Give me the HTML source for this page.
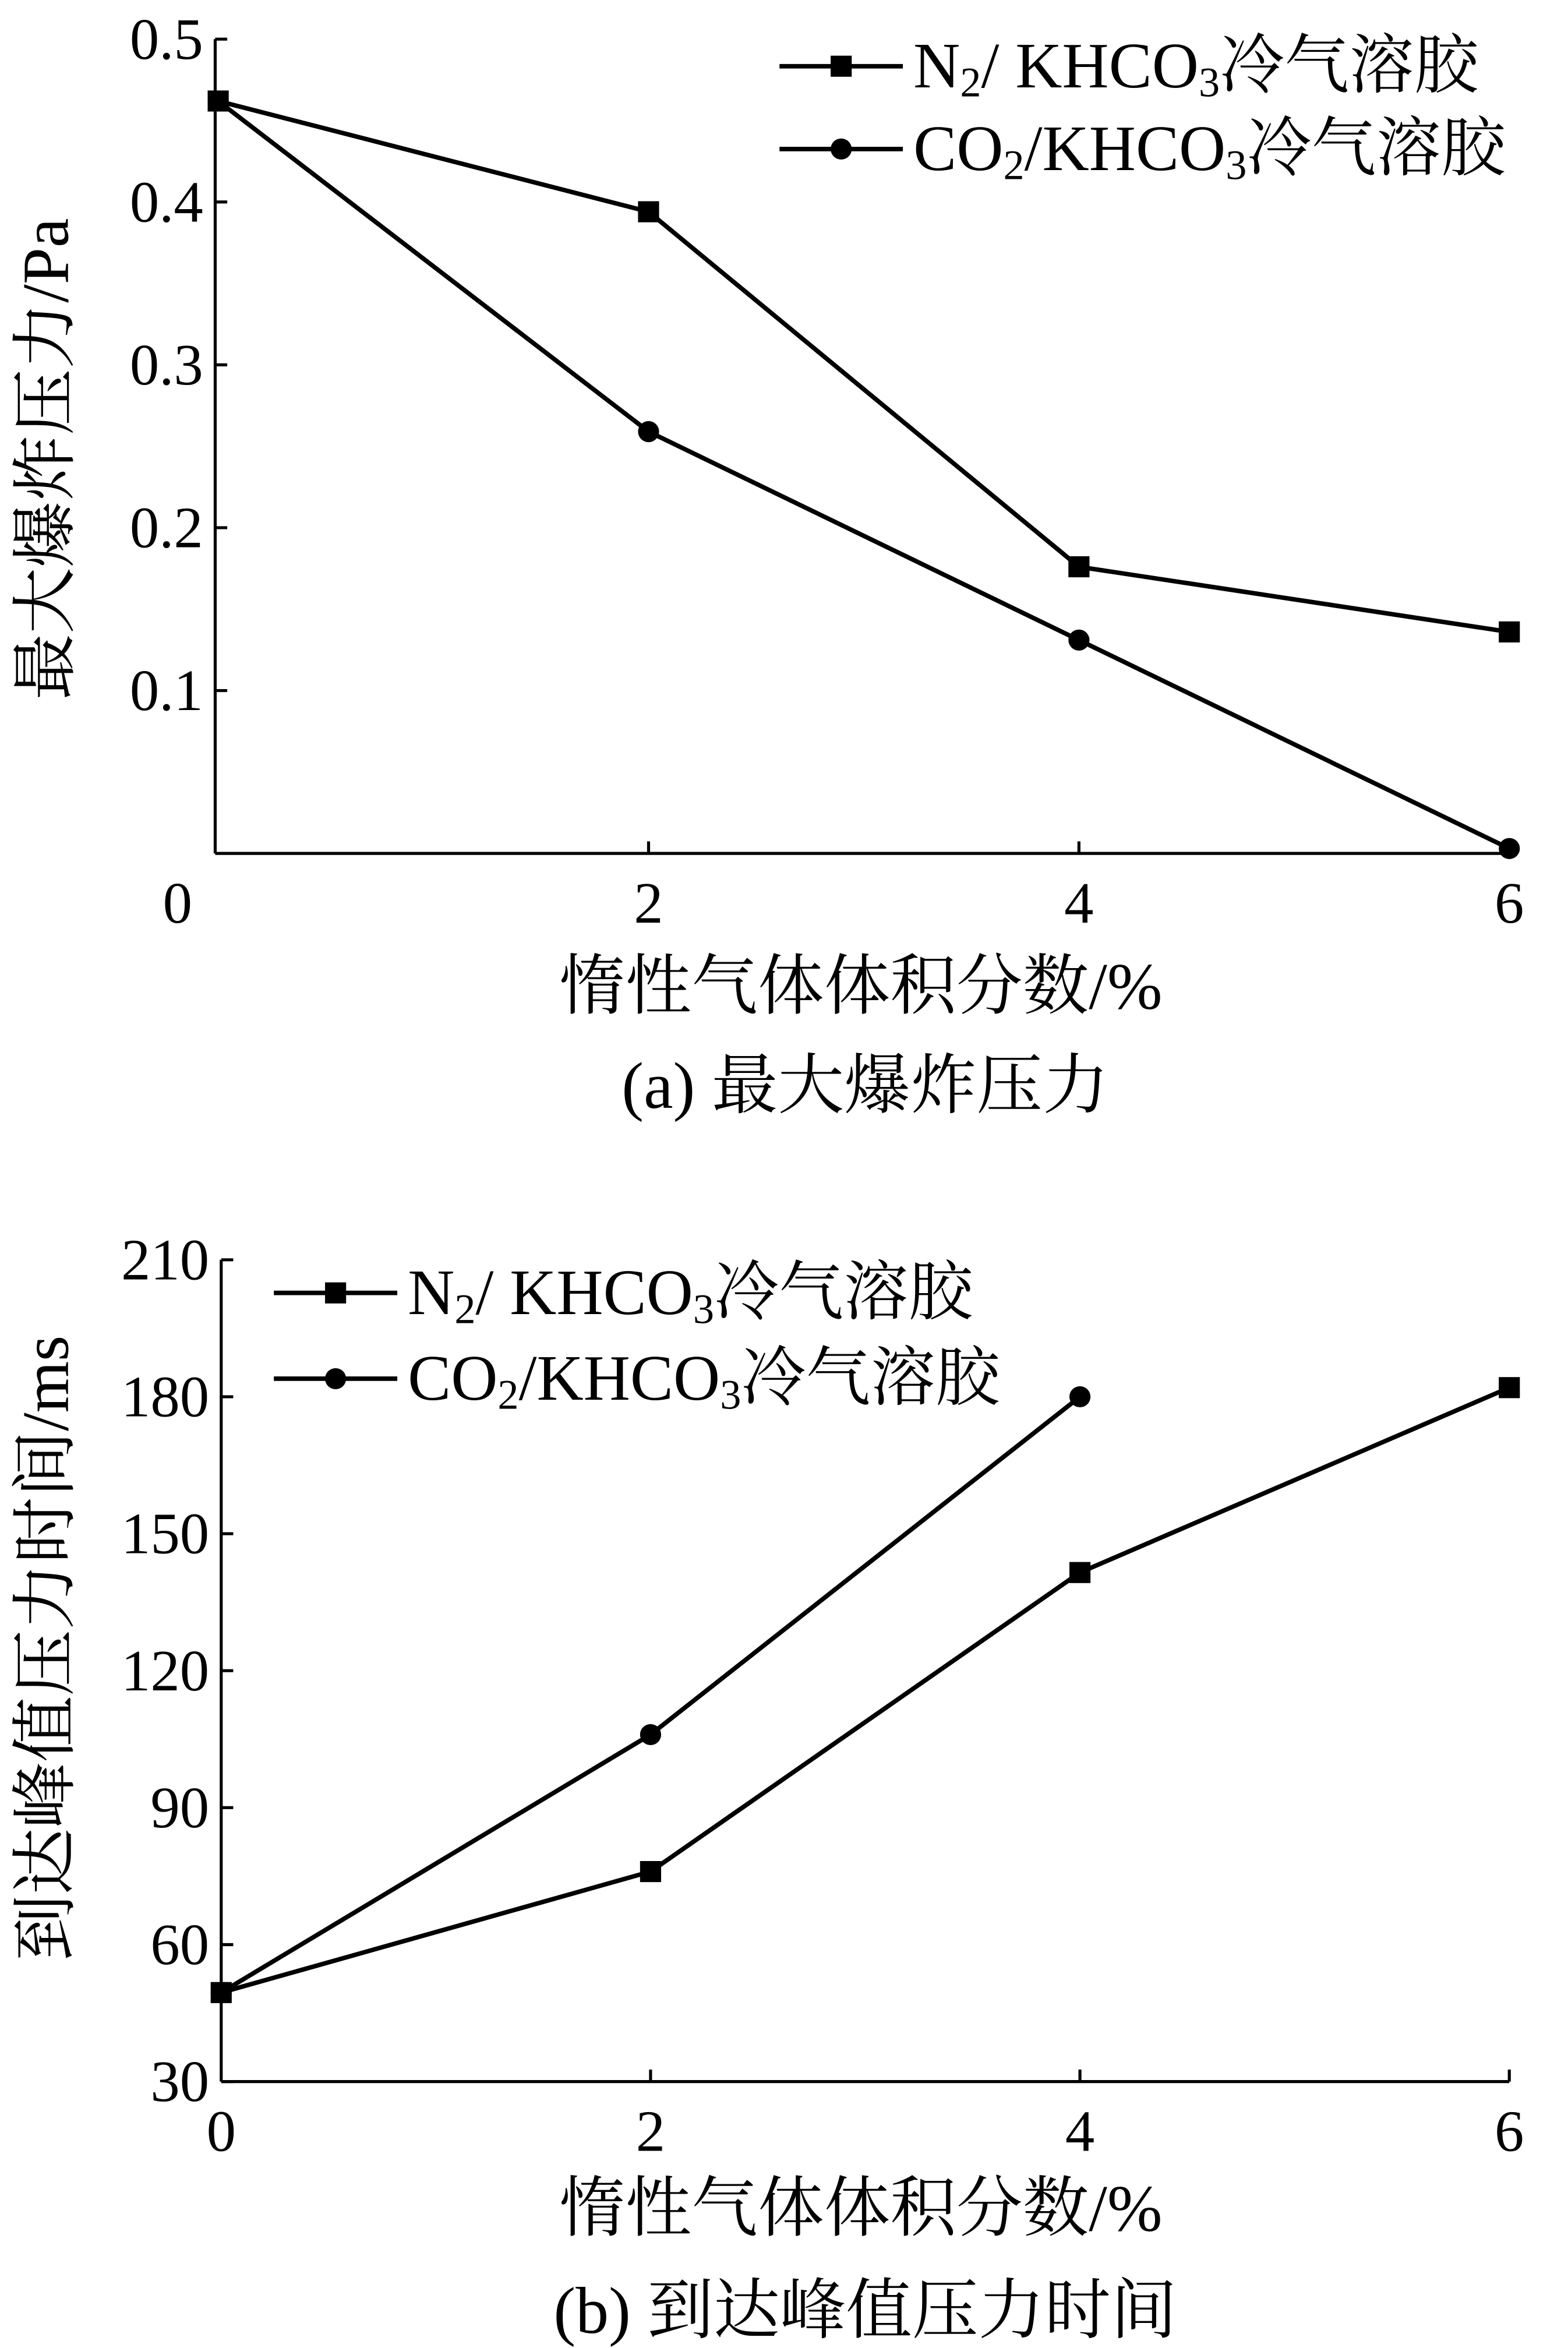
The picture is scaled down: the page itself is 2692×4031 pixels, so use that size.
<!DOCTYPE html>
<html><head><meta charset="utf-8"><style>
html,body{margin:0;padding:0;background:#fff}
svg{display:block}
text{font-family:"Liberation Serif","Noto Serif CJK SC","Noto Sans CJK SC",serif;fill:#000}
</style></head><body>
<svg id="fig" width="2692" height="4031" viewBox="0 0 1042 1560" preserveAspectRatio="none" xmlns="http://www.w3.org/2000/svg"></svg>
<script>
const xCats=[0,2,4,6];
const aN2=[0.462,0.394,0.176,0.136];
const aCO2=[0.462,0.259,0.131,0.003];
const aTicks=[0.1,0.2,0.3,0.4,0.5];
const aTickLabels=["0.1","0.2","0.3","0.4","0.5"];
const bN2=[49.5,76,141.5,182];
const bCO2=[49.5,106,180];
const bTicks=[30,60,90,120,150,180,210];
const bTickLabels=["30","60","90","120","150","180","210"];
const xTickLabels=["0","2","4","6"];

const svg=document.getElementById('fig');
const NS="http://www.w3.org/2000/svg";
function mk(tag,attrs,parent){const e=document.createElementNS(NS,tag);for(const k in attrs)e.setAttribute(k,attrs[k]);(parent||svg).appendChild(e);return e;}

function chart(cfg){
  const g=mk('g',{});
  
  
  const X=v=>cfg.x0+(v-0)/6*(cfg.x1-cfg.x0);
  const Y=v=>cfg.yb-(v-cfg.ymin)/(cfg.ymax-cfg.ymin)*(cfg.yb-cfg.yt);
  const ya=mk('line',{x1:cfg.ax,y1:cfg.yt,x2:cfg.ax,y2:cfg.yb,stroke:'#000','stroke-width':2},g);
  
  
  const xa=mk('line',{x1:cfg.ax,y1:cfg.yb,x2:cfg.x1,y2:cfg.yb,stroke:'#000','stroke-width':2},g);
  
  
  cfg.yTicks.forEach((t,i)=>{
    mk('line',{x1:cfg.ax,y1:Y(t),x2:cfg.ax+8,y2:Y(t),stroke:'#000','stroke-width':2},g);
    const tl=mk('text',{x:cfg.ax-8,y:Y(t)+13,'font-size':39,'text-anchor':'end'},g);
    tl.textContent=cfg.yLabels[i];
    
    
  });
  xCats.forEach((c,i)=>{
    if(i>0) mk('line',{x1:X(c),y1:cfg.yb,x2:X(c),y2:cfg.yb-8,stroke:'#000','stroke-width':2},g);
    const tl=mk('text',{x:(i==0?cfg.x0lab:X(c)),y:cfg.yb+46,'font-size':39,'text-anchor':'middle'},g);
    tl.textContent=xTickLabels[i];
    
    
  });
  function series(vals,marker,name){
    const pts=vals.map((v,i)=>X(xCats[i])+','+Y(v)).join(' ');
    const pl=mk('polyline',{points:pts,fill:'none',stroke:'#000','stroke-width':3},g);
    
    
    vals.forEach((v,i)=>{
      let m;
      if(marker=='sq') m=mk('rect',{x:X(xCats[i])-7,y:Y(v)-7,width:14,height:14,fill:'#000'},g);
      else m=mk('circle',{cx:X(xCats[i]),cy:Y(v),r:7,fill:'#000'},g);
      
      
    });
  }
  series(cfg.n2,'sq','n2-series');
  series(cfg.co2,'ci','co2-series');
  [[cfg.legY[0],'sq','N','2','/ KHCO','3','冷气溶胶'],[cfg.legY[1],'ci','CO','2','/KHCO','3','冷气溶胶']].forEach(L=>{
    const lg=mk('g',{},g);
    
    
    mk('line',{x1:cfg.legX,y1:L[0],x2:cfg.legX+82,y2:L[0],stroke:'#000','stroke-width':3},lg);
    if(L[1]=='sq') mk('rect',{x:cfg.legX+34,y:L[0]-7,width:14,height:14,fill:'#000'},lg);
    else mk('circle',{cx:cfg.legX+41,cy:L[0],r:7,fill:'#000'},lg);
    const t=mk('text',{x:cfg.legX+89,y:L[0]+14,'font-size':43},lg);
    const parts=[[L[2],0],[L[3],1],[L[4],0],[L[5],1],[L[6],0]];
    parts.forEach(p=>{const s=mk('tspan',{},t);s.textContent=p[0];if(p[1]){s.setAttribute('font-size',28);s.setAttribute('dy',6);}else if(t.childNodes.length>1){s.setAttribute('dy',-6);}});
  });
  const yt=mk('text',{x:0,y:0,'font-size':44,'text-anchor':'middle',transform:`translate(${cfg.ytx},${cfg.yty}) rotate(-90)`},g);
  yt.textContent=cfg.ytitle;
  
  
  const xt=mk('text',{x:572,y:cfg.xty,'font-size':44,'text-anchor':'middle'},g);
  xt.textContent='惰性气体体积分数/%';
  
  
  const cp=mk('text',{x:575,y:cfg.capy,'font-size':44,'text-anchor':'middle'},g);
  cp.textContent=cfg.caption;
  
  
}
chart({name:'chart-a',ax:143,x0:145,x1:1003,x0lab:118,yt:26,yb:567,ymin:0,ymax:0.5,yTicks:aTicks,yLabels:aTickLabels,n2:aN2,co2:aCO2,legX:518,legY:[44,99],ytitle:'最大爆炸压力/Pa',ytx:45,yty:305,xty:670,capy:736,caption:'(a)  最大爆炸压力'});
chart({name:'chart-b',ax:147,x0:147,x1:1003,x0lab:147,yt:837,yb:1383,ymin:30,ymax:210,yTicks:bTicks,yLabels:bTickLabels,n2:bN2,co2:bCO2,legX:182,legY:[859,916],ytitle:'到达峰值压力时间/ms',ytx:45,yty:1095,xty:1482,capy:1550,caption:'(b)  到达峰值压力时间'});
</script>
</body></html>
